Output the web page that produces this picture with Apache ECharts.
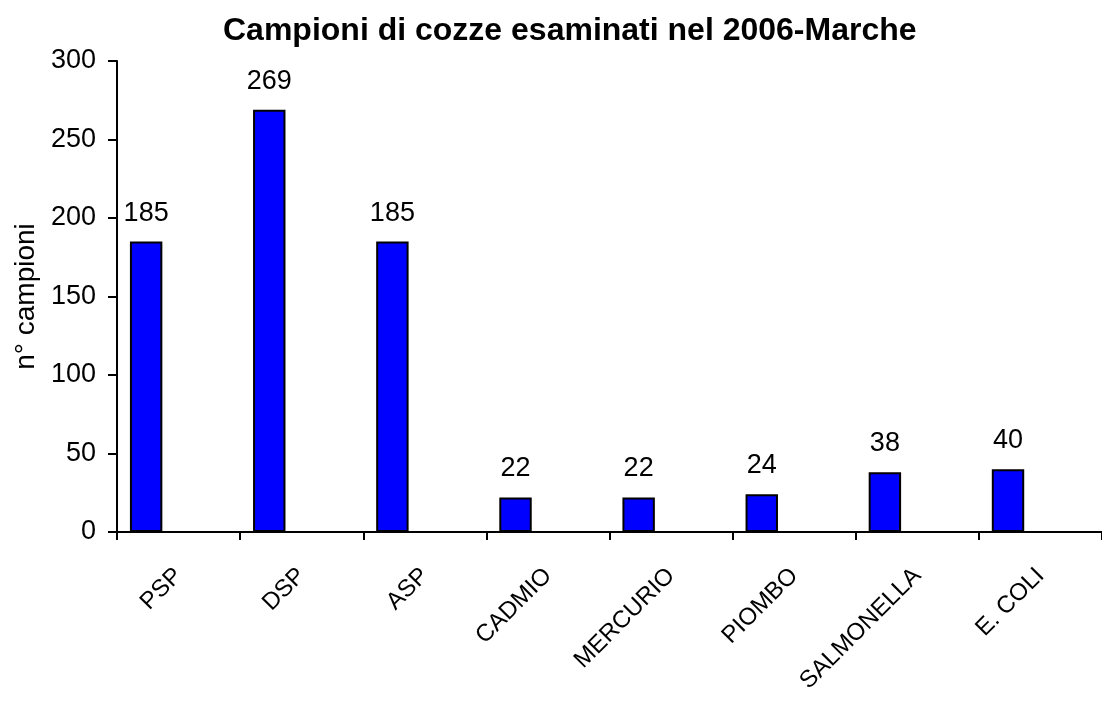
<!DOCTYPE html>
<html>
<head>
<meta charset="utf-8">
<script src="https://cdn.jsdelivr.net/npm/echarts@6/dist/echarts.min.js"></script>
<style>html,body{margin:0;padding:0;background:#fff}#c{width:1102px;height:704px}</style>
</head>
<body>
<div id="c"></div>
<script>
const titleText = 'Campioni di cozze esaminati nel 2006-Marche';
const yAxisName = 'n° campioni';
const categories = ['PSP', 'DSP', 'ASP', 'CADMIO', 'MERCURIO', 'PIOMBO', 'SALMONELLA', 'E. COLI'];
const campioni = [185, 269, 185, 22, 22, 24, 38, 40];
// the original chart has two further (empty) series sharing each category slot
const emptySeriesA = [null, null, null, null, null, null, null, null];
const emptySeriesB = [null, null, null, null, null, null, null, null];
const yTicks = { min: 0, max: 300, interval: 50 };

const font = 'Liberation Sans, Arial, sans-serif';
const chart = echarts.init(document.getElementById('c'), null, { renderer: 'canvas' });
chart.setOption({
  animation: false,
  backgroundColor: '#ffffff',
  title: {
    text: titleText,
    left: 218,
    top: 10,
    textStyle: { fontFamily: font, fontWeight: 'bold', fontSize: 32, color: '#000' }
  },
  grid: { left: 117, right: -5, top: 61, bottom: 172, containLabel: false },
  xAxis: {
    type: 'category',
    data: categories,
    axisLine: { lineStyle: { color: '#000', width: 2 } },
    axisTick: { show: true, length: 8, alignWithLabel: false, lineStyle: { color: '#000', width: 2 } },
    axisLabel: { rotate: 45, margin: 40, fontFamily: font, fontSize: 24, color: '#000', interval: 0 },
    splitLine: { show: false }
  },
  yAxis: {
    type: 'value',
    min: yTicks.min, max: yTicks.max, interval: yTicks.interval,
    name: yAxisName,
    nameLocation: 'middle',
    nameGap: 76,
    nameTextStyle: { fontFamily: font, fontSize: 28, color: '#000' },
    axisLine: { show: true, lineStyle: { color: '#000', width: 2 } },
    axisTick: { show: true, length: 9, lineStyle: { color: '#000', width: 2 } },
    axisLabel: { margin: 21, fontFamily: font, fontSize: 27, color: '#000' },
    splitLine: { show: false }
  },
  series: [
    {
      type: 'bar',
      data: campioni,
      barGap: '0%',
      barCategoryGap: '21%',
      itemStyle: { color: '#0000FF', borderColor: '#000', borderWidth: 2 },
      label: { show: true, position: 'top', distance: 15, fontFamily: font, fontSize: 27, color: '#000' }
    },
    { type: 'bar', data: emptySeriesA, barGap: '0%', barCategoryGap: '21%', silent: true },
    { type: 'bar', data: emptySeriesB, barGap: '0%', barCategoryGap: '21%', silent: true }
  ]
});
</script>
</body>
</html>
